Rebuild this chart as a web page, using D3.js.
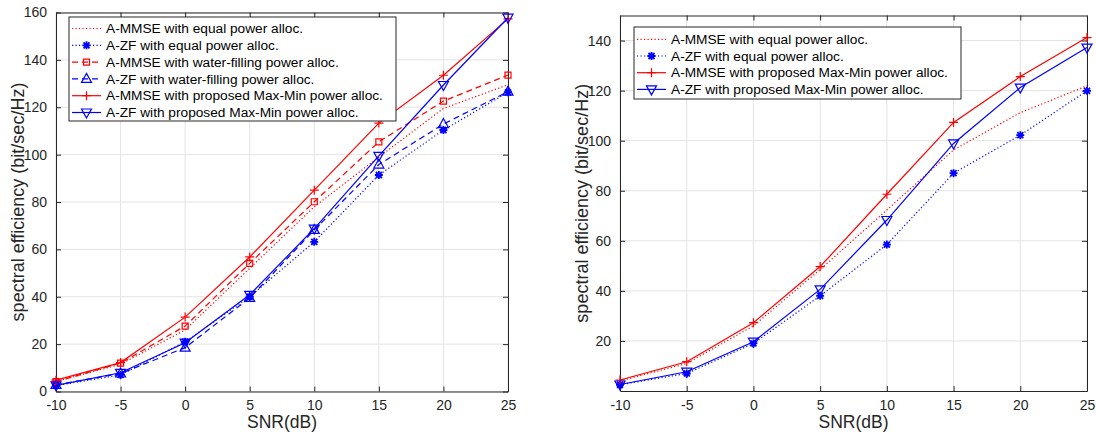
<!DOCTYPE html>
<html><head><meta charset="utf-8">
<script src="https://cdn.jsdelivr.net/npm/d3@7"></script>
<style>body{margin:0;background:#fff}svg{display:block}text{font-family:"Liberation Sans",Arial,sans-serif}</style>
</head><body><svg id="c" width="1096" height="434"></svg>
<script>
// ---------- data ----------
const snr = [-10, -5, 0, 5, 10, 15, 20, 25];
const xTicks = [-10, -5, 0, 5, 10, 15, 20, 25];
const yTicksLeft = [0, 20, 40, 60, 80, 100, 120, 140, 160];
const yTicksRight = [20, 40, 60, 80, 100, 120, 140];

// left panel
const L_mmseEqual = [4.2, 11.5, 26, 52, 78, 99, 119.5, 129.5];
const L_zfEqual   = [2.5, 7, 21, 40, 63.2, 91.4, 110.4, 126.3];
const L_mmseWF    = [4.2, 12, 27.6, 54.1, 80.1, 105.4, 122.6, 133.6];
const L_zfWF      = [2.8, 7.6, 18.5, 39.5, 68.2, 95.8, 112.9, 126.6];
const L_mmseMM    = [4.8, 12.2, 31.4, 56.8, 85, 113.3, 133.5, 157.3];
const L_zfMM      = [2.6, 7.9, 20.6, 40.8, 68.8, 99.5, 129.4, 157.8];

// right panel
const R_mmseEqual = [4, 11, 26, 48.5, 72.3, 96.3, 111.2, 121.9];
const R_zfEqual   = [2.5, 7, 19, 38, 58.5, 87, 102.2, 119.9];
const R_mmseMM    = [4.4, 11.7, 27.3, 49.7, 78.6, 107.3, 125.6, 141.2];
const R_zfMM      = [2.6, 7.7, 19.7, 40.6, 68.3, 98.9, 121.2, 137.2];

const labelsLeft = ["A-MMSE with equal power alloc.", "A-ZF with equal power alloc.",
  "A-MMSE with water-filling power alloc.", "A-ZF with water-filling power alloc.",
  "A-MMSE with proposed Max-Min power alloc.", "A-ZF with proposed Max-Min power alloc."];
const labelsRight = ["A-MMSE with equal power alloc.", "A-ZF with equal power alloc.",
  "A-MMSE with proposed Max-Min power alloc.", "A-ZF with proposed Max-Min power alloc."];

const RED = "#ff0000", BLUE = "#0000ff", AX = "#262626", GRID = "#e3e3e3";
const DOT = "1.2,2.3", DASH = "6,4";

const styles = {
  mmseEqual: {color: RED, dash: DOT, marker: null},
  zfEqual:   {color: BLUE, dash: DOT, marker: "star"},
  mmseWF:    {color: RED, dash: DASH, marker: "square"},
  zfWF:      {color: BLUE, dash: DASH, marker: "tri"},
  mmseMM:    {color: RED, dash: null, marker: "plus"},
  zfMM:      {color: BLUE, dash: null, marker: "tridown"}
};

const svg = d3.select("#c");
const fmt = d => String(d);  // plain hyphen-minus like MATLAB

function marker(g, type, x, y, color) {
  if (!type) return;
  const p = g.append("path").attr("transform", `translate(${x},${y})`)
    .attr("fill", "none").attr("stroke", color).attr("stroke-width", 1.2);
  if (type === "plus") p.attr("d", "M-4.5,0H4.5M0,-4.5V4.5");
  else if (type === "star") p.attr("stroke-width", 1.8).attr("d", "M-4,0H4M0,-4V4M-3,-3L3,3M-3,3L3,-3");
  else if (type === "square") p.attr("d", "M-3,-3H3V3H-3Z");
  else if (type === "tri") p.attr("d", "M0,-5.5L5,3.5H-5Z");
  else if (type === "tridown") p.attr("d", "M0,5.5L5,-3.5H-5Z");
}

function panel(opt) {
  const x = d3.scaleLinear().domain([-10, 25]).range([opt.x0, opt.x1]);
  const y = d3.scaleLinear().domain(opt.ydom).range([opt.y1, opt.y0]);
  const g = svg.append("g");
  // grid
  g.selectAll(".gx").data(xTicks).enter().append("line")
    .attr("x1", d => x(d)).attr("x2", d => x(d)).attr("y1", opt.y0).attr("y2", opt.y1)
    .attr("stroke", GRID).attr("stroke-width", 1);
  g.selectAll(".gy").data(opt.yTicks).enter().append("line")
    .attr("y1", d => y(d)).attr("y2", d => y(d)).attr("x1", opt.x0).attr("x2", opt.x1)
    .attr("stroke", GRID).attr("stroke-width", 1);
  // axes (inside ticks)
  const axB = d3.axisBottom(x).tickValues(xTicks).tickFormat(fmt).tickSizeInner(-5).tickSizeOuter(0).tickPadding(9);
  const axT = d3.axisTop(x).tickValues(xTicks).tickSizeInner(-5).tickSizeOuter(0).tickFormat("");
  const axL = d3.axisLeft(y).tickValues(opt.yTicks).tickFormat(fmt).tickSizeInner(-5).tickSizeOuter(0).tickPadding(9);
  const axR = d3.axisRight(y).tickValues(opt.yTicks).tickSizeInner(-5).tickSizeOuter(0).tickFormat("");
  const style = a => { a.selectAll("path").attr("stroke", AX);
    a.selectAll("line").attr("stroke", AX);
    a.selectAll("text").attr("fill", AX).style("font-size", "14px").style("font-family", '"Liberation Sans",Arial,sans-serif'); };
  g.append("g").attr("transform", `translate(0,${opt.y1})`).call(axB).call(style);
  g.append("g").attr("transform", `translate(0,${opt.y0})`).call(axT).call(style);
  g.append("g").attr("transform", `translate(${opt.x0},0)`).call(axL).call(style);
  g.append("g").attr("transform", `translate(${opt.x1},0)`).call(axR).call(style);
  // series
  opt.series.forEach(s => {
    const st = styles[s.key];
    const line = d3.line().x((d, i) => x(snr[i])).y(d => y(d));
    g.append("path").datum(s.values).attr("d", line).attr("fill", "none")
      .attr("stroke", st.color).attr("stroke-width", 1.2)
      .attr("stroke-dasharray", st.dash);
    s.values.forEach((v, i) => marker(g, st.marker, x(snr[i]), y(v), st.color));
  });
  // labels
  g.append("text").attr("x", (opt.x0 + opt.x1) / 2).attr("y", 428).attr("text-anchor", "middle")
    .attr("fill", AX).style("font-size", "17.5px").text("SNR(dB)");
  g.append("text").attr("transform", `translate(${opt.ylabX},${(opt.y0 + opt.y1) / 2}) rotate(-90)`)
    .attr("text-anchor", "middle").attr("fill", AX).style("font-size", "18px")
    .text("spectral efficiency (bit/sec/Hz)");
  // legend
  const lg = opt.legend;
  g.append("rect").attr("x", lg.x).attr("y", lg.y).attr("width", lg.w).attr("height", lg.h)
    .attr("fill", "#fff").attr("stroke", AX).attr("stroke-width", 1);
  opt.series.forEach((s, i) => {
    const st = styles[s.key];
    const yy = lg.y + lg.first + i * lg.step;
    g.append("line").attr("x1", lg.x + 3).attr("x2", lg.x + 32).attr("y1", yy).attr("y2", yy)
      .attr("stroke", st.color).attr("stroke-width", 1.2).attr("stroke-dasharray", st.dash);
    marker(g, st.marker, lg.x + 17.5, yy, st.color);
    g.append("text").attr("x", lg.x + 37).attr("y", yy).attr("dy", "0.35em")
      .attr("fill", "#000").style("font-size", "13.7px").text(s.label);
  });
}

panel({x0: 56, x1: 508, y0: 12.5, y1: 391.5, ydom: [0, 160], yTicks: yTicksLeft, ylabX: 24,
  legend: {x: 69, y: 17, w: 327, h: 104, first: 11.5, step: 16.8},
  series: [
    {key: "mmseEqual", values: L_mmseEqual, label: labelsLeft[0]},
    {key: "zfEqual", values: L_zfEqual, label: labelsLeft[1]},
    {key: "mmseWF", values: L_mmseWF, label: labelsLeft[2]},
    {key: "zfWF", values: L_zfWF, label: labelsLeft[3]},
    {key: "mmseMM", values: L_mmseMM, label: labelsLeft[4]},
    {key: "zfMM", values: L_zfMM, label: labelsLeft[5]}
  ]});

panel({x0: 620, x1: 1087, y0: 15.5, y1: 391, ydom: [0, 150], yTicks: yTicksRight, ylabX: 588,
  legend: {x: 634, y: 27, w: 327, h: 72, first: 12.3, step: 16.7},
  series: [
    {key: "mmseEqual", values: R_mmseEqual, label: labelsRight[0]},
    {key: "zfEqual", values: R_zfEqual, label: labelsRight[1]},
    {key: "mmseMM", values: R_mmseMM, label: labelsRight[2]},
    {key: "zfMM", values: R_zfMM, label: labelsRight[3]}
  ]});
</script></body></html>
